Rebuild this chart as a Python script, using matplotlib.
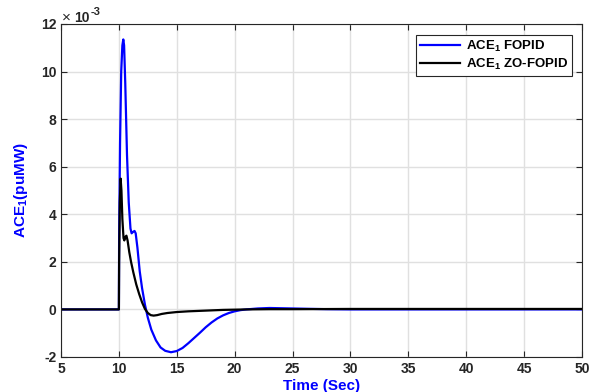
import numpy as np
import matplotlib
matplotlib.use("Agg")
import matplotlib.pyplot as plt
from matplotlib.ticker import FuncFormatter

# time and ACE1 response (values in units of 1e-3 puMW)
t_fopid = [5, 10, 10.02, 10.1, 10.2, 10.3, 10.38, 10.45, 10.55, 10.7, 10.85, 11.0, 11.1,
           11.2, 11.35, 11.45, 11.6, 11.8, 12.0, 12.25, 12.5, 12.8, 13.2, 13.6, 14.0,
           14.5, 15.0, 15.5, 16.0, 16.5, 17.0, 17.5, 18.0, 18.5, 19.0, 19.5, 20.0,
           20.5, 21, 22, 23, 24, 26, 28, 30, 50]
ace_fopid = [0, 0, 3.0, 7.0, 10.0, 11.1, 11.35, 11.1, 9.5, 6.5, 4.5, 3.4, 3.2,
             3.25, 3.3, 3.2, 2.6, 1.6, 0.9, 0.2, -0.35, -0.85, -1.3, -1.6, -1.74,
             -1.8, -1.75, -1.62, -1.42, -1.2, -0.98, -0.75, -0.55, -0.38, -0.25, -0.15, -0.08,
             -0.03, 0.0, 0.04, 0.06, 0.05, 0.03, 0.01, 0.0, 0.0]

t_zo = [5, 10, 10.02, 10.08, 10.15, 10.22, 10.3, 10.4, 10.47, 10.55, 10.65, 10.75,
        10.9, 11.05, 11.25, 11.5, 11.75, 12.0, 12.25, 12.5, 12.75, 13.0, 13.3, 13.7,
        14.2, 15, 16, 17, 18, 19, 20, 21, 23, 25, 30, 50]
ace_zo = [0, 0, 2.0, 4.5, 5.5, 5.0, 3.8, 3.0, 2.9, 3.05, 3.1, 2.9,
          2.4, 2.0, 1.55, 1.05, 0.65, 0.3, 0.02, -0.15, -0.24, -0.26, -0.24, -0.19,
          -0.15, -0.11, -0.08, -0.06, -0.04, -0.02, -0.01, 0.0, 0.01, 0.01, 0.02, 0.02]

plt.rcParams['font.family'] = ['Liberation Sans', 'DejaVu Sans']
plt.rcParams['mathtext.fontset'] = 'custom'
plt.rcParams['mathtext.rm'] = 'Liberation Sans'
plt.rcParams['mathtext.bf'] = 'Liberation Sans:bold'
plt.rcParams['axes.unicode_minus'] = False

fig = plt.figure(figsize=(5.9, 3.92), dpi=100)
ax = fig.add_axes([0.1034, 0.0893, 0.883, 0.8495])

ax.plot(t_fopid, np.array(ace_fopid) * 1e-3, color='#0000ff', lw=1.6,
        label=r'ACE$_\mathbf{1}$ FOPID')
ax.plot(t_zo, np.array(ace_zo) * 1e-3, color='black', lw=1.6,
        label=r'ACE$_\mathbf{1}$ ZO-FOPID')

ax.set_xlim(5, 50)
ax.set_ylim(-2e-3, 12e-3)
ax.set_xticks(np.arange(5, 51, 5))
ax.set_yticks(np.arange(-2e-3, 12.1e-3, 2e-3))
ax.yaxis.set_major_formatter(FuncFormatter(lambda v, p: '%d' % round(v * 1e3)))

# exponent label like MATLAB
fig.text(0.105, 0.944, '\u00d7', fontsize=11, color='#262626', va='baseline')
fig.text(0.126, 0.944, '10', fontsize=10, fontweight='bold', color='#262626', va='baseline')
fig.text(0.153, 0.962, '-3', fontsize=8, fontweight='bold', color='#262626', va='baseline')

ax.grid(True, color='#e0e0e0', lw=1)
ax.set_axisbelow(True)
ax.tick_params(direction='in', top=True, right=True, length=4, colors='#262626',
               labelsize=10)
for lab in ax.get_xticklabels() + ax.get_yticklabels():
    lab.set_fontweight('bold')
for sp in ax.spines.values():
    sp.set_color('#262626')

ax.set_xlabel('Time (Sec)', color='#0000ff', fontweight='bold', fontsize=11, labelpad=2)
ax.set_ylabel(r'ACE$_\mathbf{1}$(puMW)', color='#0000ff', fontweight='bold', fontsize=11,
              labelpad=8)

leg = ax.legend(loc='upper right', bbox_to_anchor=(0.981, 0.967), fancybox=False,
                edgecolor='#262626', framealpha=1, handlelength=3.0, borderpad=0.3,
                labelspacing=0.2, handletextpad=0.5, borderaxespad=0,
                prop={'weight': 'bold', 'size': 9.5})
leg.get_frame().set_linewidth(0.8)

fig.savefig('out.png', dpi=100)
